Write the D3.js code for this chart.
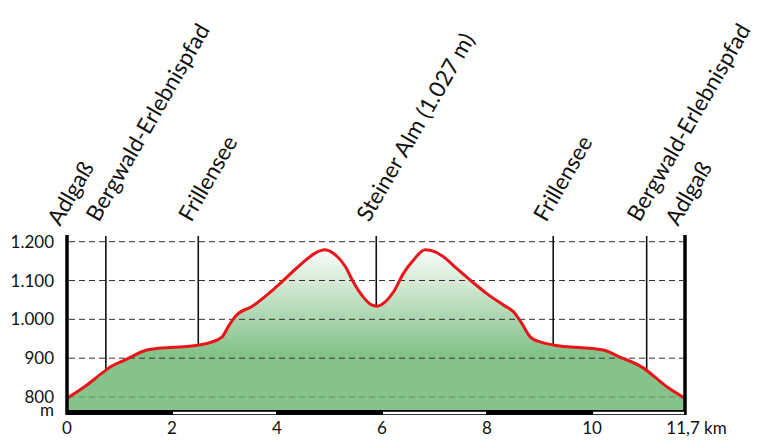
<!DOCTYPE html>
<html><head><meta charset="utf-8">
<script src="https://cdn.jsdelivr.net/npm/d3@7/dist/d3.min.js"></script>
<style>body{margin:0;background:#fff}svg{display:block}text{font-family:Lato,"Open Sans",sans-serif;fill:#111}</style>
</head><body><svg id="c" width="775" height="440"></svg>
<script>
const distKm = [0,0.30,0.69,0.82,1.10,1.52,1.77,2.34,2.72,2.95,3.07,3.23,3.52,3.99,4.44,4.72,4.91,5.07,5.30,5.45,5.64,5.80,5.90,6.06,6.22,6.41,6.60,6.82,7.01,7.17,7.42,7.68,7.99,8.31,8.50,8.66,8.82,9.01,9.26,10.21,10.53,10.95,11.43,11.77];
const elevM  = [797,823,864,877,895,921,926,931,940,954,981,1011,1033,1084,1140,1170,1179,1170,1136,1097,1058,1037,1034,1045,1071,1119,1153,1179,1174,1161,1131,1101,1067,1037,1020,990,955,942,934,921,903,877,826,797];
const markerNames = ["Adlgaß","Bergwald-Erlebnispfad","Frillensee","Steiner Alm (1.027 m)","Frillensee","Bergwald-Erlebnispfad","Adlgaß"];
const markerKm = [0,0.74,2.50,5.89,9.26,11.04,11.77];
const yTicks = [800,900,1000,1100,1200];
const yTickLabels = ["800","900","1.000","1.100","1.200"];
const xTicks = [0,2,4,6,8,10];
const xEndLabel = "11,7 km";
const xEndKm = 11.7;

const svg = d3.select("#c");
const x = d3.scaleLinear().domain([0,11.77]).range([67,685]);
const y = d3.scaleLinear().domain([800,1200]).range([397,241.7]);
const baseY = 410;

const data = distKm.map((d,i)=>({d, e:elevM[i]}));

const defs = svg.append("defs");
const grad = defs.append("linearGradient").attr("id","g").attr("gradientUnits","userSpaceOnUse")
  .attr("x1",0).attr("x2",0).attr("y1",y(1190)).attr("y2",y(920));
grad.append("stop").attr("offset",0).attr("stop-color","#ffffff");
grad.append("stop").attr("offset",1).attr("stop-color","#86c38b");

const area = d3.area().x(d=>x(d.d)).y0(baseY).y1(d=>y(d.e)).curve(d3.curveMonotoneX);
const line = d3.line().x(d=>x(d.d)).y(d=>y(d.e)).curve(d3.curveMonotoneX);

svg.append("path").datum(data).attr("d",area).attr("fill","url(#g)");

// grid
svg.append("g").selectAll("line").data(yTicks).join("line")
  .attr("x1",x(0)+2).attr("x2",x(11.77)-2).attr("y1",d=>y(d)).attr("y2",d=>y(d))
  .attr("stroke",(d)=>d===800?"#6a8a6c":"#333").attr("stroke-width",1).attr("stroke-dasharray","6,4");

// marker lines
const interp = km => { const i = d3.bisector(d=>d.d).left(data, km); if(i<=0) return data[0].e; if(i>=data.length) return data[data.length-1].e; const a=data[i-1], b=data[i]; return a.e+(b.e-a.e)*(km-a.d)/(b.d-a.d); };
svg.append("g").selectAll("line").data(markerKm.slice(1,-1)).join("line")
  .attr("x1",d=>x(d)).attr("x2",d=>x(d)).attr("y1",236).attr("y2",d=>y(interp(d)))
  .attr("stroke","#111").attr("stroke-width",1.6);

svg.append("path").datum(data).attr("d",line).attr("fill","none").attr("stroke","#e8151b").attr("stroke-width",3).attr("stroke-linejoin","round");

// axes verticals
[0,11.77].forEach(k=>{
  svg.append("line").attr("x1",x(k)).attr("x2",x(k)).attr("y1",235).attr("y2",415)
    .attr("stroke","#000").attr("stroke-width",3.5);
});

// bottom bar
svg.append("rect").attr("x",x(0)).attr("y",410).attr("width",x(11.77)-x(0)).attr("height",5).attr("fill","#000");
const segs = [[2,4],[6,8],[10,11.77]];
svg.append("g").selectAll("rect").data(segs).join("rect")
  .attr("x",d=>x(d[0])+1).attr("y",411.8).attr("width",d=>x(d[1])-x(d[0])-2).attr("height",2.4).attr("fill","#fff");

// y labels
svg.append("g").selectAll("text").data(yTicks).join("text")
  .attr("x",54).attr("y",d=>y(d)+6).attr("text-anchor","end").attr("font-size",17).text((d,i)=>yTickLabels[i]);
svg.append("text").attr("x",47).attr("y",416).attr("text-anchor","middle").attr("font-size",17).text("m");

// x labels
svg.append("g").selectAll("text").data(xTicks).join("text")
  .attr("x",d=>x(d)).attr("y",434).attr("text-anchor","middle").attr("font-size",17).text(d=>d);
svg.append("text").attr("x",x(xEndKm)-15).attr("y",434).attr("font-size",17).text(xEndLabel);

// marker labels
svg.append("g").selectAll("text").data(markerKm).join("text")
  .attr("transform",(d,i)=>`translate(${x(d)-7},${i===0||i===6?227:223}) rotate(-60)`)
  .attr("font-size",22.5).text((d,i)=>markerNames[i]);
</script></body></html>
